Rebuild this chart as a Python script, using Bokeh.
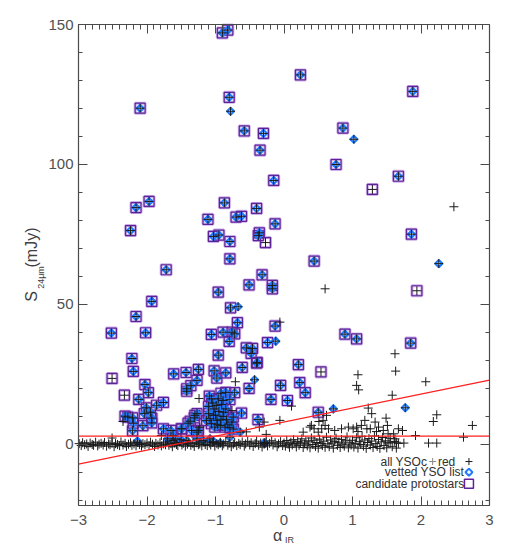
import math
from bokeh.plotting import figure
from bokeh.models import (Range1d, FixedTicker, LinearAxis, Label, CustomJSTickFormatter)
from bokeh.embed import file_html
from bokeh.resources import INLINE

# ---------------- data (alpha_IR, S_24um [mJy]) ----------------
band_points = [
    (-2.99,0.3),(-2.96,-0.4),(-2.94,0.6),(-2.91,-0.1),(-2.88,0.2),(-2.86,-0.7),(-2.83,0.5),(-2.80,0.0),
    (-2.78,-0.3),(-2.75,0.8),(-2.72,-0.5),(-2.70,0.1),(-2.67,0.4),(-2.64,-0.2),(-2.62,0.7),(-2.59,-0.6),
    (-2.56,0.2),(-2.54,-0.1),(-2.51,0.5),(-2.48,-0.8),(-2.46,0.3),(-2.43,0.0),(-2.40,-0.4),(-2.38,0.9),
    (-2.35,-0.2),(-2.32,0.4),(-2.30,-0.7),(-2.27,0.1),(-2.24,0.6),(-2.22,-0.3),(-2.19,0.2),(-2.16,-0.5),
    (-2.14,0.7),(-2.11,0.0),(-2.08,-0.6),(-2.06,0.3),(-2.03,-0.1),(-2.00,0.5),(-1.97,-0.4),(-1.95,0.8),
    (-1.92,0.1),(-1.89,-0.7),(-1.87,0.4),(-1.84,-0.2),(-1.81,0.6),(-1.79,-0.5),(-1.76,0.2),(-1.73,-0.1),
    (-1.71,0.9),(-1.68,-0.3),(-1.65,0.3),(-1.63,-0.8),(-1.60,0.5),(-1.57,0.0),(-1.55,-0.4),(-1.52,0.7),
    (-1.49,-0.2),(-1.47,0.4),(-1.44,-0.6),(-1.41,0.1),(-1.39,0.8),(-1.36,-0.3),(-1.33,0.3),(-1.31,-0.7),
    (-1.28,0.6),(-1.25,-0.1),(-1.23,0.2),(-1.20,-0.5),(-1.17,0.9),(-1.15,0.0),(-1.12,-0.4),(-1.09,0.5),
    (-1.07,-0.2),(-1.04,0.7),(-1.01,-0.6),
    (-0.98,0.3),(-0.96,-0.1),(-0.93,0.8),(-0.90,-0.5),(-0.88,0.2),(-0.85,1.0),(-0.82,-0.3),(-0.80,0.5),
    (-0.77,-0.8),(-0.74,0.1),(-0.72,0.7),(-0.69,-0.4),(-0.66,0.4),(-0.64,-0.1),(-0.61,0.9),(-0.58,-0.6),
    (-0.56,0.2),(-0.53,1.1),(-0.50,-0.2),(-0.48,0.6),(-0.45,-0.7),(-0.42,0.3),(-0.40,1.2),(-0.37,-0.3),
    (-0.34,0.5),(-0.32,-0.9),(-0.29,0.1),(-0.26,0.8),(-0.24,-0.5),(-0.21,0.4),(-0.18,1.3),(-0.16,-0.2),
    (-0.13,0.6),(-0.10,-0.8),(-0.08,0.2),(-0.05,1.0),(-0.02,-0.4),
    (0.00,0.5),(0.02,-0.6),(0.04,1.4),(0.06,0.1),(0.08,-1.0),(0.10,0.8),(0.12,-0.2),(0.14,1.7),
    (0.16,0.3),(0.18,-0.9),(0.20,1.1),(0.22,-0.3),(0.24,0.6),(0.26,2.0),(0.28,-1.1),(0.30,0.2),
    (0.32,1.3),(0.34,-0.5),(0.36,0.9),(0.38,-1.2),(0.40,2.3),(0.42,0.0),(0.44,1.5),(0.46,-0.7),
    (0.48,0.7),(0.50,-1.3),(0.52,1.9),(0.54,0.4),(0.56,-0.4),(0.58,1.2),(0.60,-1.0),(0.62,2.6),
    (0.64,0.2),(0.66,-0.8),(0.68,1.6),(0.70,0.5),(0.72,-1.3),(0.74,1.0),(0.76,2.2),(0.78,-0.3),
    (0.80,0.8),(0.82,-1.1),(0.84,1.8),(0.86,0.1),(0.88,-0.6),(0.90,1.3),(0.92,2.7),(0.94,-1.2),
    (0.96,0.6),(0.98,-0.2),
    (1.00,1.5),(1.02,-0.9),(1.04,0.4),(1.06,2.4),(1.08,-1.3),(1.10,1.0),(1.12,0.0),(1.14,2.9),
    (1.16,-0.6),(1.18,1.6),(1.20,-1.4),(1.22,0.7),(1.24,2.1),(1.26,-0.2),(1.28,1.2),(1.30,-1.1),
    (1.32,3.0),(1.34,0.3),(1.36,-0.7),(1.38,1.8),(1.40,-1.4),(1.42,0.9),(1.44,2.5),(1.46,-0.4),
    (1.48,1.3),(1.50,-1.2),(1.52,0.5),(1.55,2.2),(1.58,-0.8),(1.61,1.1),(1.64,-1.3),(1.67,0.4),
]

yso_scatter = [
    (-2.51,2.3),(-2.35,8.2),(-1.24,16.4),(-0.71,22.4),(-0.76,12.1),(-0.29,8.0),(-0.36,6.2),(-0.26,3.6),
    (-1.23,6.2),(0.60,55.6),(2.48,84.9),(-0.06,43.7),(1.62,32.4),(1.63,26.2),(2.07,22.4),(1.58,17.6),
    (1.08,24.9),(1.06,21.1),(1.09,19.5),(0.11,13.7),(-0.06,8.6),(0.38,6.2),(0.44,5.6),(0.40,6.8),
    (0.51,8.2),(0.57,8.6),(0.60,6.8),(0.65,5.6),(0.62,10.4),(0.55,5.6),(1.06,6.2),(1.13,6.8),
    (1.18,8.6),(1.21,5.6),(1.26,5.6),(1.33,8.0),(1.28,11.0),(1.23,13.0),(1.38,6.2),(0.28,4.4),
    (1.08,4.6),(1.35,4.6),(2.23,10.6),(2.18,8.2),(2.75,6.8),(2.62,2.6),(1.92,3.2),(2.11,0.5),
    (2.23,0.5),(1.75,0.5),(1.49,9.4),(1.51,6.8),(1.67,5.6),(1.73,5.0),(1.45,5.0),(1.52,3.8),
    (1.60,3.8),(1.62,2.0),(1.55,0.8),(1.64,0.8),(-1.79,3.2),(-0.55,4.5),(0.84,5.6),(0.94,6.2),
    (1.01,5.6),(0.74,5.0),(0.50,4.4),
]

proto_vetted = [
    (-0.90,147.0),(-0.82,148.0),(-2.10,120.1),(-0.80,124.0),(-0.58,112.0),(-0.35,105.1),(-2.16,84.6),
    (-1.97,86.8),(-0.87,86.3),(-0.40,84.3),(-2.24,76.4),(-1.11,80.4),(-1.03,74.3),(-0.95,74.8),
    (-0.70,81.2),(-0.62,81.5),(-0.79,72.5),(-0.36,75.6),(-0.375,74.6),(-0.79,66.3),(-1.72,62.4),
    (-0.32,60.6),(0.24,132.0),(1.88,126.1),(-0.30,111.1),(0.86,113.0),(0.76,100.0),(1.67,95.8),
    (-0.15,94.3),(-0.13,78.8),(1.86,75.1),(0.44,65.5),
    (-2.52,39.8),(-2.16,45.7),(-1.93,51.1),(-2.02,39.9),(-2.22,30.7),(-2.20,26.1),(-2.03,21.4),
    (-1.98,18.5),(-2.12,16.1),(-1.86,14.0),(-1.76,15.0),(-2.01,13.1),(-1.95,11.5),(-2.04,11.0),
    (-1.93,9.4),(-1.93,7.7),(-2.32,10.1),(-2.28,9.8),(-2.21,9.5),(-2.20,7.6),(-2.06,6.7),(-2.21,4.9),
    (-1.61,25.2),(-1.43,25.7),(-1.25,26.8),(-1.27,22.9),(-1.42,19.9),(-1.36,21.0),(-1.42,19.0),
    (-0.96,54.4),(-0.51,57.0),(-0.78,48.8),(-0.68,43.5),(-1.06,39.3),(-0.89,40.1),(-0.76,40.1),
    (-0.72,39.5),(-0.80,36.8),(-0.55,34.5),(-0.46,34.3),(-0.48,32.5),(-0.96,31.9),(-0.39,29.3),
    (-1.02,26.3),(-0.85,25.6),(-0.98,23.7),(-0.61,27.5),(-0.51,20.0),(-0.92,18.3),(-0.85,18.6),
    (-0.72,18.5),(-1.09,17.3),
    (-0.17,56.8),(-0.17,55.6),(-0.13,42.3),(-0.24,36.4),(0.89,39.4),(1.06,37.7),(1.85,36.2),
    (-0.40,29.0),(0.21,28.5),(0.23,22.1),(0.31,18.5),(-0.05,21.1),(-0.19,16.1),(0.05,15.7),
    (0.50,11.5),(-0.38,8.9),
    (-1.06,16.3),(-0.96,16.3),(-0.89,15.7),(-0.79,16.0),(-0.99,13.9),(-0.91,14.3),(-0.85,12.7),
    (-1.10,13.6),(-1.02,12.7),(-1.27,11.0),(-1.30,10.4),(-1.31,9.5),(-1.37,8.3),(-1.40,7.6),
    (-1.10,11.0),(-1.03,10.4),(-1.08,9.2),(-0.98,8.6),(-1.06,7.4),(-1.01,6.2),(-0.89,10.0),
    (-0.84,8.8),(-0.74,9.8),(-0.76,8.0),(-0.62,11.2),(-0.93,6.8),(-0.86,6.2),(-0.79,6.0),
    (-0.74,5.5),(-1.49,5.6),(-1.35,5.0),(-1.27,4.4),(-1.25,5.0),(-1.76,5.6),(-1.65,5.0),
    (-1.50,5.6),(-1.62,3.2),(-1.58,2.0),(-1.04,14.8),(-0.95,11.8),(-0.92,9.0),(-1.00,10.5),
    (-0.97,7.2),(-0.88,11.5),(-1.13,8.5),(-0.82,7.0),
]

proto_only = [(-2.51,23.6),(-2.33,17.6),(-0.27,72.1),(1.29,91.1),(1.94,54.9),(0.54,25.9)]

vetted_only = [
    (-0.78,119.0),(1.02,109.0),(2.26,64.6),(-0.67,49.2),(-0.12,36.9),(-0.43,23.1),(0.72,12.7),
    (1.77,13.1),(-0.64,4.4),(-0.29,0.6),(-2.14,1.2),(-1.70,2.0),(-1.62,1.4),(-1.50,1.7),(-1.42,1.4),
    (-1.27,2.0),(-1.18,1.4),(-1.08,2.0),(-1.03,1.1),(-0.93,0.5),(-0.79,2.6),(-0.28,0.5),
]

flux_cut = 3.0
cut_slope = 5.0
cut_intercept = 8.0

x_ticks = [-3, -2, -1, 0, 1, 2, 3]
y_ticks = [0, 50, 100, 150]
x_min, x_max = -3.0, 3.0
y_min, y_max = -21.8, 150.0

# ---------------- layout ----------------
W, H = 504, 547
FRAME_L, FRAME_R, FRAME_T, FRAME_B = 78, 489, 24, 505   # pixel box of the data area
sx = (FRAME_R - FRAME_L) / (x_max - x_min)
sy = (FRAME_B - FRAME_T) / (y_max - y_min)
view_x = (x_min - FRAME_L / sx, x_max + (W - FRAME_R) / sx)
view_y = (y_min - (H - FRAME_B) / sy, y_max + FRAME_T / sy)

AX = "#4a4a4a"
FONT = "Liberation Sans"
TXT = "#404040"

p = figure(width=W, height=H, output_backend="svg", toolbar_location=None,
           x_range=Range1d(*view_x), y_range=Range1d(*view_y),
           x_axis_location=None, y_axis_location=None,
           min_border=0)
p.grid.visible = False
p.outline_line_color = None
p.background_fill_color = "white"

x_minor = [round(-3 + 0.1 * i, 2) for i in range(61)]
y_minor = [-20, -10] + [v for v in range(10, 150, 10) if v % 50 != 0]

def make_axis(side, loc, ticks, minor, bounds, labels, major_len, minor_len):
    ax = LinearAxis(ticker=FixedTicker(ticks=ticks, minor_ticks=minor), fixed_location=loc,
                    bounds=bounds)
    ax.axis_line_color = AX
    ax.axis_line_width = 1.2
    ax.major_tick_line_color = AX
    ax.minor_tick_line_color = AX
    ax.major_tick_in = major_len
    ax.major_tick_out = 0
    ax.minor_tick_in = minor_len
    ax.minor_tick_out = 0
    ax.major_label_text_font = FONT
    ax.major_label_text_font_size = "15px"
    ax.major_label_text_color = "#505050"
    if not labels:
        ax.formatter = CustomJSTickFormatter(code="return ''")
    p.add_layout(ax, side)
    return ax

bx = make_axis("below", y_min, x_ticks, x_minor, (x_min, x_max), True, 9, 5)
bx.major_label_standoff = 9
ly = make_axis("left", x_min, y_ticks, y_minor, (y_min, y_max), True, 9, 4)
ly.major_label_standoff = 5
make_axis("above", y_max, x_ticks, x_minor, (x_min, x_max), False, 9, 5)
make_axis("right", x_max, y_ticks, y_minor, (y_min, y_max), False, 9, 4)

def xs(pts):
    return [a for a, s in pts]

def ys(pts):
    return [s for a, s in pts]

squares = proto_vetted + proto_only
diamonds = proto_vetted + vetted_only
pluses = band_points + yso_scatter + proto_vetted + proto_only + vetted_only

PURPLE = "#5f2399"
HALO = "#cdb0ea"
BLUE = "#1f7bff"

p.scatter(xs(squares), ys(squares), marker="square", size=10, fill_color=None,
          line_color=HALO, line_width=3.0)
p.scatter(xs(squares), ys(squares), marker="square", size=10, fill_color=None,
          line_color=PURPLE, line_width=1.2)
p.scatter(xs(diamonds), ys(diamonds), marker="square", size=5, angle=math.pi / 4,
          fill_color=None, line_color=BLUE, line_width=2.2)
p.scatter(xs(pluses), ys(pluses), marker="cross", size=9, line_color="#1a1a1a", line_width=1)

# red selection lines across the data range
p.line([x_min, x_max], [flux_cut, flux_cut], line_color="#ff2020", line_width=1.2)
p.line([x_min, x_max], [cut_slope * x_min + cut_intercept, cut_slope * x_max + cut_intercept],
       line_color="#ff2020", line_width=1.2)

# axis titles (screen px from the canvas' lower-left corner)
ROT = dict(angle=math.pi / 2, text_align="center", text_baseline="middle",
           text_font=FONT, text_color=TXT, x_units="screen", y_units="screen")
p.add_layout(Label(x=31, y=H - 296, text="S", text_font_size="16px", **ROT))
p.add_layout(Label(x=40, y=H - 277, text="24μm", text_font_size="9px", **ROT))
p.add_layout(Label(x=31, y=H - 247, text="(mJy)", text_font_size="16px", **ROT))
FLAT = dict(text_align="center", text_baseline="middle", text_font=FONT, text_color=TXT,
            x_units="screen", y_units="screen")
p.add_layout(Label(x=277, y=H - 535, text="α", text_font_size="16px", **FLAT))
p.add_layout(Label(x=289, y=H - 539, text="IR", text_font_size="9px", **FLAT))

# legend
LEG = dict(text_font=FONT, text_font_size="12px", text_color="#303030",
           text_align="right", text_baseline="middle")
p.add_layout(Label(x=2.09, y=-6.1, text="all YSOc", **LEG))
p.add_layout(Label(x=2.50, y=-6.1, text="red", **LEG))
p.add_layout(Label(x=2.63, y=-9.9, text="vetted YSO list", **LEG))
p.add_layout(Label(x=2.63, y=-14.0, text="candidate protostars", **LEG))
p.scatter([2.17], [-6.1], marker="cross", size=7, line_color="#8a8a8a", line_width=1)
p.scatter([2.70], [-6.1], marker="cross", size=7, line_color="#1a1a1a", line_width=1)
p.scatter([2.70], [-9.9], marker="square", size=5, angle=math.pi / 4, fill_color=None,
          line_color=BLUE, line_width=2)
p.scatter([2.70], [-14.0], marker="square", size=9, fill_color=None, line_color=PURPLE,
          line_width=1.5)

open("out.html", "w").write(file_html(p, INLINE))
